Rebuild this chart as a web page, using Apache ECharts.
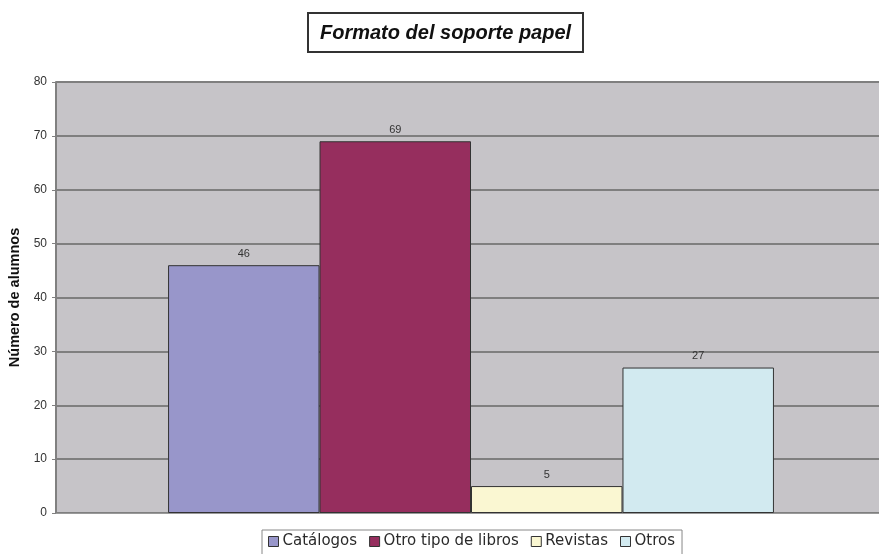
<!DOCTYPE html>
<html>
<head>
<meta charset="utf-8">
<script src="https://cdn.jsdelivr.net/npm/echarts@6/dist/echarts.min.js"></script>
<style>html,body{margin:0;padding:0;background:#fff;}#c{width:879px;height:554px;}</style>
</head>
<body>
<div id="c"></div>
<script>
const titleText = "Formato del soporte papel";
const yAxisName = "Número de alumnos";
const categories = [""];
const seriesNames = ["Catálogos", "Otro tipo de libros", "Revistas", "Otros"];
const seriesValues = [46, 69, 5, 27];
const seriesColors = ["#9896CA", "#962E5E", "#FAF7D2", "#D2EAF0"];
const yTicks = [0, 10, 20, 30, 40, 50, 60, 70, 80];

const chart = echarts.init(document.getElementById('c'), null, {renderer: 'canvas'});
const option = {
  animation: false,
  backgroundColor: '#ffffff',
  textStyle: {fontFamily: 'Liberation Sans, Arial, sans-serif'},
  title: {
    text: titleText,
    left: 308,
    top: 13,
    padding: [10, 12, 9, 12],
    borderColor: '#333',
    borderWidth: 2,
    textStyle: {fontSize: 20, fontWeight: 'bold', fontStyle: 'italic', color: '#111', fontFamily: 'Liberation Sans, Arial, sans-serif'}
  },
  legend: {
    top: 530,
    left: 262,
    data: seriesNames,
    itemWidth: 10,
    itemHeight: 10,
    itemGap: 12,
    padding: [4, 7, 6, 6],
    borderColor: '#888',
    borderWidth: 1,
    icon: 'rect',
    itemStyle: {borderColor: '#333', borderWidth: 1},
    textStyle: {fontSize: 15, color: '#2a2a2a', fontFamily: 'DejaVu Sans, sans-serif', padding: [0, 0, 0, -1]}
  },
  grid: {left: 56, width: 830, top: 82, bottom: 41, outerBoundsMode: 'none', containLabel: false, show: true, backgroundColor: '#C6C4C8', borderWidth: 0},
  xAxis: {
    type: 'category',
    data: categories,
    axisLine: {show: true, lineStyle: {color: '#999', width: 1}},
    axisTick: {show: false},
    axisLabel: {show: false}
  },
  yAxis: {
    type: 'value',
    min: yTicks[0],
    max: yTicks[yTicks.length - 1],
    interval: 10,
    name: yAxisName,
    nameLocation: 'middle',
    nameGap: 25,
    nameTextStyle: {fontSize: 14.5, fontWeight: 'bold', color: '#111'},
    axisLine: {show: true, lineStyle: {color: '#808080', width: 2}},
    axisTick: {show: true, length: 4, lineStyle: {color: '#808080'}},
    axisLabel: {fontSize: 12, color: '#333', margin: 9},
    splitLine: {show: true, lineStyle: {color: '#7F7F7F', width: 2}}
  },
  series: seriesNames.map((n, i) => ({
    name: n,
    type: 'bar',
    data: [seriesValues[i]],
    barGap: '0%',
    barCategoryGap: '27%',
    itemStyle: {color: seriesColors[i], borderColor: '#333', borderWidth: 1},
    label: {show: true, position: 'top', fontSize: 11, color: '#333', distance: 6}
  }))
};
chart.setOption(option);
</script>
</body>
</html>
